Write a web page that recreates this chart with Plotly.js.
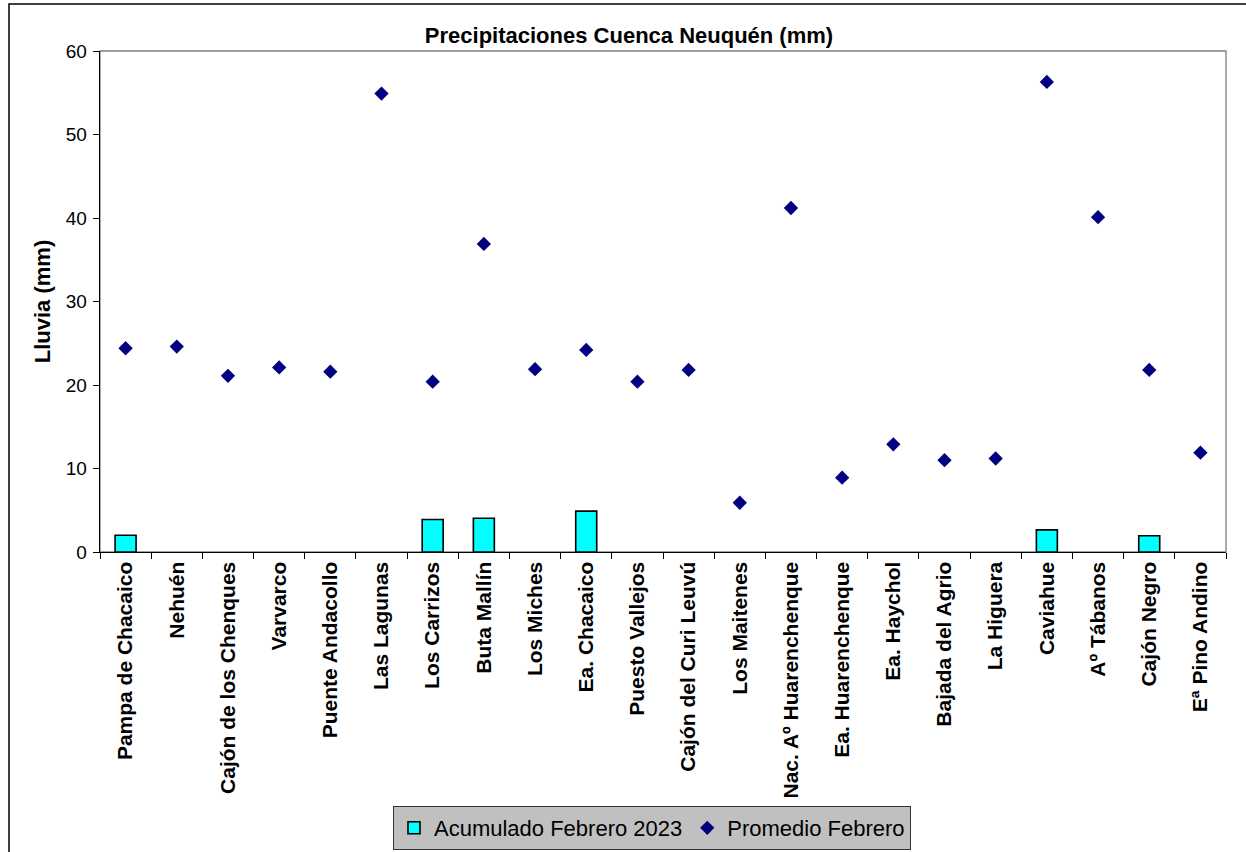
<!DOCTYPE html>
<html>
<head>
<meta charset="utf-8">
<script src="https://cdn.plot.ly/plotly-3.0.1.min.js"></script>
<style>html,body{margin:0;padding:0;background:#fff;}#chart{width:1246px;height:852px;}</style>
</head>
<body>
<div id="chart"></div>
<script>
const estaciones = ["Pampa de Chacaico","Nehuén","Cajón de los Chenques","Varvarco","Puente Andacollo","Las Lagunas","Los Carrizos","Buta Mallín","Los Miches","Ea. Chacaico","Puesto Vallejos","Cajón del Curi Leuvú","Los Maitenes","Nac. Aº Huarenchenque","Ea. Huarenchenque","Ea. Haychol","Bajada del Agrio","La Higuera","Caviahue","Aº Tábanos","Cajón Negro","Eª Pino Andino"];
const acumuladoFeb2023 = [2.0,0,0,0,0,0,3.9,4.05,0,4.9,0,0,0,0,0,0,0,0,2.65,0,1.95,0];
const promedioFebrero = [24.4,24.6,21.1,22.1,21.6,54.9,20.4,36.9,21.9,24.2,20.4,21.8,5.9,41.2,8.9,12.9,11.0,11.2,56.3,40.1,21.8,11.9];
const nombreBarras = "Acumulado Febrero 2023";
const nombrePuntos = "Promedio Febrero";
const titulo = "Precipitaciones Cuenca Neuquén (mm)";
const tituloY = "Lluvia (mm)";

const FONT = "Arial, 'Liberation Sans', sans-serif";

const data = [
  {type:'bar', x: estaciones, y: acumuladoFeb2023, name: nombreBarras, width: 0.41,
   marker:{color:'#00FFFF', line:{color:'#000000', width: acumuladoFeb2023.map(v => v > 0 ? 1.6 : 0)}}},
  {type:'scatter', mode:'markers', x: estaciones, y: promedioFebrero, name: nombrePuntos,
   marker:{symbol:'diamond', color:'#000080', size:11}}
];

const layout = {
  width:1246, height:852,
  paper_bgcolor:'#ffffff', plot_bgcolor:'#ffffff',
  margin:{l:100, r:20, t:51, b:300, pad:0},
  font:{family:FONT, color:'#000'},
  title:{text:'<b>'+titulo+'</b>', font:{size:22, family:FONT, color:'#000'}, x:629/1246, xref:'container', xanchor:'center', y:1-35/852, yref:'container', yanchor:'middle'},
  showlegend:true,
  legend:{orientation:'h', x:393/1246, xref:'container', xanchor:'left', y:1-806/852, yref:'container', yanchor:'top',
    bgcolor:'#C0C0C0', bordercolor:'#333333', borderwidth:1, font:{size:22, family:FONT, color:'#000'},
    itemwidth:30, tracegroupgap:0},
  xaxis:{type:'category', tickangle:-90, tickfont:{size:21, family:FONT, color:'#000', weight:'bold'},
    ticks:'outside', ticklen:6, tickcolor:'#000', tickson:'boundaries', showline:true, linecolor:'#000', linewidth:1.3,
    showgrid:false, zeroline:false, automargin:false, range:[-0.5, 21.5]},
  yaxis:{range:[0,60], dtick:10, ticks:'outside', ticklen:6, tickcolor:'#000', showline:true, linecolor:'#000', linewidth:1.3,
    showgrid:false, zeroline:false, tickfont:{size:19, family:FONT, color:'#000'}, ticklabelstandoff:2,
    title:{text:'<b>'+tituloY+'</b>', font:{size:22, family:FONT, color:'#000'}, standoff:9}, automargin:false},
  shapes:[
    {type:'rect', xref:'paper', yref:'paper', x0:0, x1:1, y0:0, y1:1, line:{color:'#808080', width:1.3}, layer:'below'},
    {type:'rect', xref:'paper', yref:'paper', x0:(9-100)/1126, x1:1.2, y0:-0.8, y1:1+(51-4)/501, line:{color:'#000', width:1.5}, fillcolor:'rgba(0,0,0,0)', layer:'above'}
  ]
};

Plotly.newPlot('chart', data, layout, {displayModeBar:false, staticPlot:true});
</script>
</body>
</html>
